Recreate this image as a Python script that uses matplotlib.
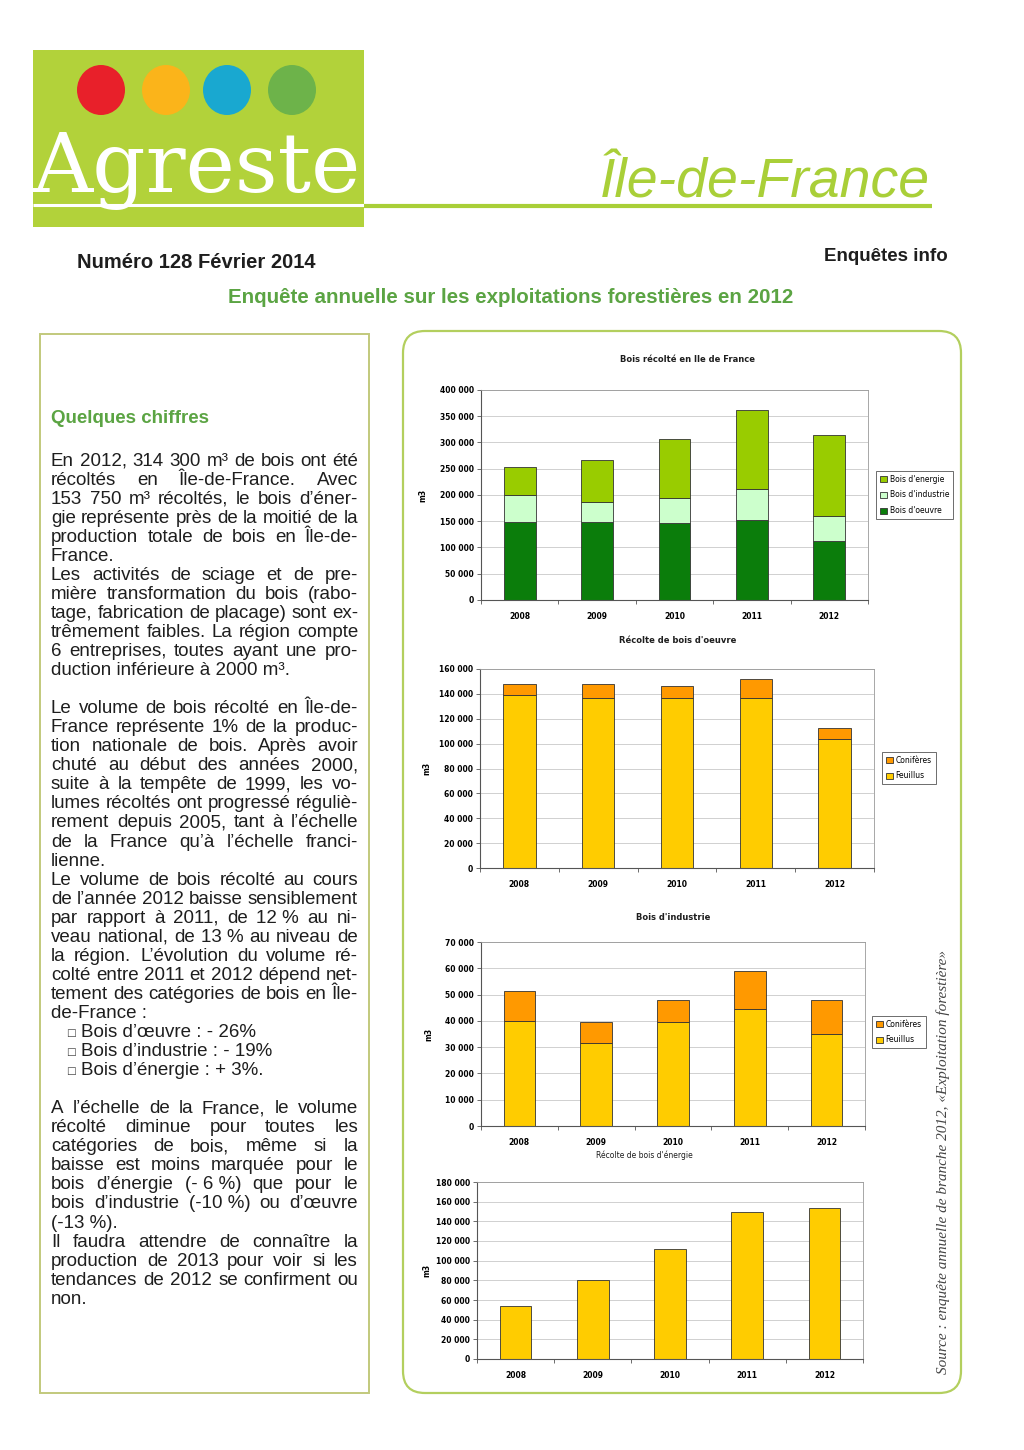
import matplotlib
matplotlib.use("Agg")
import matplotlib.pyplot as plt
from matplotlib.patches import Ellipse, Rectangle, FancyBboxPatch
from matplotlib.font_manager import FontProperties
from matplotlib.ticker import FuncFormatter, MultipleLocator, FixedLocator
import numpy as np

W, H = 1024, 1450

# couleurs
LOGO_GREEN = "#b2d23a"
LIME = "#a9cf38"
TITLE_GREEN = "#5ba443"
TXT = "#1e1e1e"
C_OEUVRE = "#0b7d0b"
C_INDUS = "#ccffcc"
C_ENERGIE = "#99cc00"
C_FEUIL = "#ffcc00"
C_CONIF = "#ff9900"

# données (m3)
years = ["2008", "2009", "2010", "2011", "2012"]
oeuvre_feuillus = [139400, 136700, 136700, 136700, 103400]
oeuvre_coniferes = [8500, 11200, 9900, 15500, 9300]
industrie_feuillus = [40100, 31600, 39400, 44600, 34900]
industrie_coniferes = [11250, 7850, 8650, 14450, 13150]
energie = [54000, 80000, 111400, 149900, 153750]

legend_total = ["Bois d'energie", "Bois d'industrie", "Bois d'oeuvre"]
legend_ess = ["Conifères", "Feuillus"]

fig = plt.figure(figsize=(W / 100, H / 100), dpi=100)
page = fig.add_axes([0, 0, 1, 1])
page.set_xlim(0, W)
page.set_ylim(H, 0)
page.axis("off")

# ---------------------------------------------------------------- en-tête
page.add_patch(Rectangle((33, 50), 331, 177, color=LOGO_GREEN, lw=0))
for cx, col in [(101, "#e8202a"), (166, "#fbb41a"), (227, "#19a8d0"), (292, "#6db34a")]:
    page.add_patch(Ellipse((cx, 90), 48, 50, color=col, lw=0))
page.text(33, 192, "Agreste", family="DejaVu Serif", size=60, color="white",
          ha="left", va="baseline")
page.plot([33, 364], [205, 205], color="white", lw=2.2, solid_capstyle="butt")
page.plot([364, 932], [205.5, 205.5], color=LIME, lw=3, solid_capstyle="butt")
page.text(930, 197, "Île-de-France", family="Liberation Sans",
          style="italic", size=40, color=LIME, ha="right", va="baseline")

page.text(77, 262, "Numéro 128 Février 2014", family="Liberation Sans", weight="bold",
          size=14.5, color=TXT, ha="left", va="center")
page.text(948, 256, "Enquêtes info", family="Liberation Sans", weight="bold",
          size=13.5, color=TXT, ha="right", va="center")
page.text(511, 297, "Enquête annuelle sur les exploitations forestières en 2012",
          family="Liberation Sans", weight="bold", size=14.8, color=TITLE_GREEN,
          ha="center", va="center")

# ---------------------------------------------------------------- encadré gauche
page.add_patch(Rectangle((40, 334), 329, 1059, fill=False, ec="#c2c97c", lw=1.4))
page.text(51, 423, "Quelques chiffres", family="Liberation Sans", weight="bold",
          size=13.5, color=TITLE_GREEN, ha="left", va="baseline")

NB = "\u00a0"
lines = [
    ("En 2012, 314 300 m³ de bois ont été", 1),
    ("récoltés en Île-de-France. Avec", 1),
    ("153 750 m³ récoltés, le bois d’éner-", 1),
    ("gie représente près de la moitié de la", 1),
    ("production totale de bois en Île-de-", 1),
    ("France.", 0),
    ("Les activités de sciage et de pre-", 1),
    ("mière transformation du bois (rabo-", 1),
    ("tage, fabrication de placage) sont ex-", 1),
    ("trêmement faibles. La région compte", 1),
    ("6 entreprises, toutes ayant une pro-", 1),
    ("duction inférieure à 2000 m³.", 0),
    None,
    ("Le volume de bois récolté en Île-de-", 1),
    ("France représente 1% de la produc-", 1),
    ("tion nationale de bois. Après avoir", 1),
    ("chuté au début des années 2000,", 1),
    ("suite à la tempête de 1999, les vo-", 1),
    ("lumes récoltés ont progressé réguliè-", 1),
    ("rement depuis 2005, tant à l’échelle", 1),
    ("de la France qu’à l’échelle franci-", 1),
    ("lienne.", 0),
    ("Le volume de bois récolté au cours", 1),
    ("de l’année 2012 baisse sensiblement", 1),
    (f"par rapport à 2011, de 12{NB}% au ni-", 1),
    (f"veau national, de 13{NB}% au niveau de", 1),
    ("la région. L’évolution du volume ré-", 1),
    ("colté entre 2011 et 2012 dépend net-", 1),
    ("tement des catégories de bois en Île-", 1),
    ("de-France :", 0),
    ("Bois d’œuvre : - 26%", 2),
    ("Bois d’industrie : - 19%", 2),
    ("Bois d’énergie : + 3%.", 2),
    None,
    ("A l’échelle de la France, le volume", 1),
    ("récolté diminue pour toutes les", 1),
    ("catégories de bois, même si la", 1),
    ("baisse est moins marquée pour le", 1),
    (f"bois d’énergie (-{NB}6{NB}%) que pour le", 1),
    (f"bois d’industrie (-10{NB}%) ou d’œuvre", 1),
    (f"(-13{NB}%).", 0),
    ("Il faudra attendre de connaître la", 1),
    ("production de 2013 pour voir si les", 1),
    ("tendances de 2012 se confirment ou", 1),
    ("non.", 0),
]

renderer = fig.canvas.get_renderer()
body = FontProperties(family=["Liberation Sans", "DejaVu Sans"], size=13.5)
X0, X1 = 51, 358
Y0, DY = 465.5, 19.05


def text_w(s):
    w, h, d = renderer.get_text_width_height_descent(s, body, ismath=False)
    return w


for i, item in enumerate(lines):
    if item is None:
        continue
    s, mode = item
    y = Y0 + i * DY
    if mode == 0:
        page.text(X0, y, s, fontproperties=body, color=TXT, va="baseline")
    elif mode == 2:
        page.text(66, y - 1, "□", family="DejaVu Sans", size=7.5, color="#444", va="baseline")
        page.text(81, y, s, fontproperties=body, color=TXT, va="baseline")
    else:
        words = s.split(" ")
        ws = [text_w(w) for w in words]
        gap = (X1 - X0 - sum(ws)) / (len(words) - 1)
        x = X0
        for w, ww in zip(words, ws):
            page.text(x, y, w, fontproperties=body, color=TXT, va="baseline")
            x += ww + gap

# ---------------------------------------------------------------- encadré droit
page.add_patch(FancyBboxPatch((403, 331), 558, 1062, boxstyle="round,pad=0,rounding_size=22",
                              fill=False, ec="#b3cf5e", lw=1.6))
page.text(943, 1162, "Source : enquête annuelle de branche 2012, «Exploitation forestière»",
          family="Liberation Serif", style="italic", size=11, color="#444",
          rotation=90, ha="center", va="center")

# ---------------------------------------------------------------- graphiques
x = np.arange(len(years))
BW = 0.41


def thousands(v, _):
    return f"{int(round(v)):,}".replace(",", " ")


def add_chart(box, ymax, ystep, ylab_x):
    l, t, r, b = box
    ax = fig.add_axes([l / W, 1 - b / H, (r - l) / W, (b - t) / H])
    ax.set_xlim(-0.5, 4.5)
    ax.set_ylim(0, ymax)
    ax.yaxis.set_major_locator(MultipleLocator(ystep))
    ax.yaxis.set_major_formatter(FuncFormatter(thousands))
    ax.set_xticks(x)
    ax.set_xticklabels(years)
    ax.xaxis.set_minor_locator(FixedLocator(np.arange(-0.5, 5, 1)))
    ax.tick_params(axis="x", which="major", length=0, pad=8.5, labelsize=5.5)
    ax.tick_params(axis="x", which="minor", length=3, width=0.6, color="#555")
    ax.tick_params(axis="y", length=3, width=0.6, pad=2, labelsize=5.5, color="#555")
    for lab in ax.get_xticklabels() + ax.get_yticklabels():
        lab.set_fontweight("bold")
    ax.grid(axis="y", color="#d0d0d0", lw=0.7)
    ax.set_axisbelow(True)
    for side in ["left", "bottom"]:
        ax.spines[side].set_color("#555")
        ax.spines[side].set_linewidth(0.8)
    for side in ["top", "right"]:
        ax.spines[side].set_color("#999")
        ax.spines[side].set_linewidth(0.6)
    ax.set_ylabel("m3", fontsize=5.5, fontweight="bold")
    ax.yaxis.set_label_coords((ylab_x - l) / (r - l), 0.5)
    return ax


def small_legend(ax, handles, labels, box, yc, x_left):
    l, t, r, b = box
    ax.legend(handles, labels, loc="center left",
              bbox_to_anchor=((x_left - l) / (r - l), (b - yc) / (b - t)),
              fontsize=5.5, frameon=True, fancybox=False, edgecolor="#555",
              framealpha=1, handlelength=0.9, handleheight=0.9, handletextpad=0.4,
              borderpad=0.5, labelspacing=0.9, borderaxespad=0)
    ax.get_legend().get_frame().set_linewidth(0.6)


bar_kw = dict(width=BW, edgecolor="#333", linewidth=0.6)

# 1. Bois récolté
box1 = (481, 390, 868, 600)
ax1 = add_chart(box1, 400000, 50000, 427.5)
oeuvre = np.add(oeuvre_feuillus, oeuvre_coniferes)
indus = np.add(industrie_feuillus, industrie_coniferes)
h1 = ax1.bar(x, oeuvre, color=C_OEUVRE, **bar_kw)
h2 = ax1.bar(x, indus, bottom=oeuvre, color=C_INDUS, **bar_kw)
h3 = ax1.bar(x, energie, bottom=oeuvre + indus, color=C_ENERGIE, **bar_kw)
small_legend(ax1, [h3, h2, h1], legend_total, box1, 495, 876)
page.text(687, 359, "Bois récolté en Ile de France", fontsize=6, weight="bold",
          ha="center", va="center", color=TXT)

# 2. Bois d'oeuvre
box2 = (480, 669, 874, 868)
ax2 = add_chart(box2, 160000, 20000, 431)
f2 = ax2.bar(x, oeuvre_feuillus, color=C_FEUIL, **bar_kw)
c2 = ax2.bar(x, oeuvre_coniferes, bottom=oeuvre_feuillus, color=C_CONIF, **bar_kw)
small_legend(ax2, [c2, f2], legend_ess, box2, 768, 882)
page.text(678, 640, "Récolte de bois d'oeuvre", fontsize=6, weight="bold",
          ha="center", va="center", color=TXT)

# 3. Bois d'industrie
box3 = (481, 942, 865, 1126)
ax3 = add_chart(box3, 70000, 10000, 433)
f3 = ax3.bar(x, industrie_feuillus, color=C_FEUIL, **bar_kw)
c3 = ax3.bar(x, industrie_coniferes, bottom=industrie_feuillus, color=C_CONIF, **bar_kw)
small_legend(ax3, [c3, f3], legend_ess, box3, 1032, 872)
page.text(673, 917, "Bois d'industrie", fontsize=6, weight="bold",
          ha="center", va="center", color=TXT)

# 4. Bois d'énergie
box4 = (477, 1182, 863, 1359)
ax4 = add_chart(box4, 180000, 20000, 431)
ax4.bar(x, energie, color=C_FEUIL, **bar_kw)
page.text(644, 1155, "Récolte de bois d'énergie", fontsize=5.5,
          ha="center", va="center", color=TXT)

fig.savefig("out.png", dpi=100)
